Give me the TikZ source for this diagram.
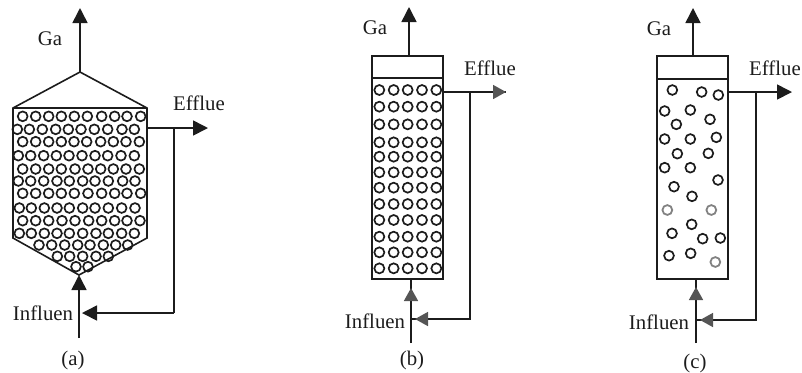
\documentclass[tikz,border=0pt]{standalone}
\usepackage{fontspec}
\setmainfont{Liberation Serif}
\usetikzlibrary{arrows.meta}
\definecolor{ink}{HTML}{1C1C1C}
\tikzset{
  x=0.5pt,y=-0.5pt,
  wall/.style={draw=ink,line width=0.8pt,line join=miter},
  pipe/.style={draw=ink,line width=0.8pt},
  bead/.style={draw=ink,line width=0.85pt},
  faint/.style={draw=ink!55,line width=0.9pt},
  head/.style={-{Triangle[length=7.5pt,width=7.5pt,fill=ink,color=ink]}},
  softhead/.style={-{Triangle[length=6.5pt,width=7pt,fill=ink!75,color=ink!75]}},
  lab/.style={text=ink,font=\fontsize{10.4}{12}\selectfont,inner sep=0pt},
}
\begin{document}
\begin{tikzpicture}
\useasboundingbox (0,0) rectangle (802,372);
% ---------- (a)
\coordinate (aTL) at (13,108);
\coordinate (aTR) at (147,108);
\coordinate (aTop) at (80,72);
\coordinate (aBL) at (13,238);
\coordinate (aBR) at (147,238);
\coordinate (aBot) at (79,275);
\coordinate (aGas) at (80,8);
\coordinate (aIn) at (79,338);
\coordinate (aEffS) at (147,128);
\coordinate (aEffJ) at (174,128);
\coordinate (aEffE) at (208,128);
\coordinate (aRecC) at (174,313);
\coordinate (aRecE) at (82,313);
\draw[wall] (aTL) -- (aTop) -- (aTR) -- (aBR) -- (aBot) -- (aBL) -- cycle;
\draw[wall] (aTL) -- (aTR);
\foreach \yy/\xs in {
 349/{68,107,146,184,223,262,305,344,381,422},
 388/{52,88,127,167,205,243,283,323,366,403},
 425/{68,107,146,184,222,260,302,340,378,418},
 467/{55,92,131,169,207,246,285,323,363,403},
 507/{68,107,146,184,225,264,302,340,378,418},
 543/{55,92,131,171,208,248,285,325,368,405},
 580/{68,107,146,184,223,264,305,344,381,422},
 624/{58,94,133,171,208,248,285,325,365,405},
 662/{68,107,146,186,225,266,305,344,381,420},
 700/{58,94,133,171,208,248,288,325,365,403},
 735/{117,155,194,233,270,310,347,383},
 769/{172,209,248,288,325},
 800/{228,264}}{
  \foreach \xx in \xs { \draw[bead] ({\xx/3},{\yy/3}) circle[radius=2.45pt]; }
}
\draw[pipe,head] (aTop) -- (aGas);
\draw[pipe,head] (aIn) -- (aBot);
\draw[pipe,head] (aEffS) -- (aEffE);
\draw[pipe] (aEffJ) -- (aRecC);
\draw[pipe,head] (aRecC) -- (aRecE);
\node[lab] (aGa) at (50,39) {Ga};
\node[lab] (aEf) at (199,103) {Efflue};
\node[lab] (aIf) at (43,313) {Influen};
\node[lab] (aCap) at (73,360) {(a)};
% ---------- (b)
\coordinate (bTL) at (372,56);
\coordinate (bBR) at (443,279);
\coordinate (bDL) at (372,78);
\coordinate (bDR) at (443,78);
\coordinate (bGasS) at (409,56);
\coordinate (bGas) at (409,7);
\coordinate (bIn) at (411,343);
\coordinate (bInT) at (411,279);
\coordinate (bInJ) at (411,300);
\coordinate (bInH) at (411,288);
\coordinate (bEffS) at (443,92);
\coordinate (bEffJ) at (470,92);
\coordinate (bEffE) at (506,92);
\coordinate (bRecC) at (470,319);
\coordinate (bRecJ) at (411,319);
\coordinate (bRecS) at (430,319);
\coordinate (bRecH) at (415,319);
\draw[wall] (bTL) rectangle (bBR);
\draw[wall] (bDL) -- (bDR);
\foreach \yy in {270,320,373,427,470,517,563,612,660,710,757,805}{
  \foreach \xx in {118,161,203,246,289}{
    \draw[bead] ({340+\xx/3},{\yy/3}) circle[radius=2.5pt];
  }
}
\draw[pipe,head] (bGasS) -- (bGas);
\draw[pipe] (bIn) -- (bInT);
\draw[pipe,softhead] (bInJ) -- (bInH);
\draw[pipe] (bEffS) -- (bEffE);
\draw[pipe,softhead] (bEffJ) -- (bEffE);
\draw[pipe] (bEffJ) -- (bRecC) -- (bRecJ);
\draw[pipe,softhead] (bRecS) -- (bRecH);
\node[lab] (bGa) at (375,28) {Ga};
\node[lab] (bEf) at (490,68) {Efflue};
\node[lab] (bIf) at (375,321) {Influen};
\node[lab] (bCap) at (412,360) {(b)};
% ---------- (c)
\coordinate (cTL) at (657,56);
\coordinate (cBR) at (728,279);
\coordinate (cDL) at (657,79);
\coordinate (cDR) at (728,79);
\coordinate (cGasS) at (693,56);
\coordinate (cGas) at (693,8);
\coordinate (cIn) at (696,343);
\coordinate (cInT) at (696,279);
\coordinate (cInJ) at (696,300);
\coordinate (cInH) at (696,287);
\coordinate (cEffS) at (728,92);
\coordinate (cEffJ) at (756,92);
\coordinate (cEffE) at (792,92);
\coordinate (cRecC) at (756,320);
\coordinate (cRecJ) at (696,320);
\coordinate (cRecS) at (716,320);
\coordinate (cRecH) at (700,320);
\draw[wall] (cTL) rectangle (cBR);
\draw[wall] (cDL) -- (cDR);
\foreach \xx/\yy in {187/270,275/276,325/285,164/333,241/330,300/358,199/373,164/417,241/417,319/412,202/461,295/460,164/503,241/503,324/540,192/560,246/589,245/673,186/700,278/716,331/714,177/767,242/760}{
  \draw[bead] ({610+\xx/3},{\yy/3}) circle[radius=2.45pt];
}
\foreach \xx/\yy in {172/630,304/630,316/786}{
  \draw[faint] ({610+\xx/3},{\yy/3}) circle[radius=2.45pt];
}
\draw[pipe,head] (cGasS) -- (cGas);
\draw[pipe] (cIn) -- (cInT);
\draw[pipe,softhead] (cInJ) -- (cInH);
\draw[pipe,head] (cEffS) -- (cEffE);
\draw[pipe] (cEffJ) -- (cRecC) -- (cRecJ);
\draw[pipe,softhead] (cRecS) -- (cRecH);
\node[lab] (cGa) at (659,29) {Ga};
\node[lab] (cEf) at (775,68) {Efflue};
\node[lab] (cIf) at (659,322) {Influen};
\node[lab] (cCap) at (695,363) {(c)};
\end{tikzpicture}
\end{document}
